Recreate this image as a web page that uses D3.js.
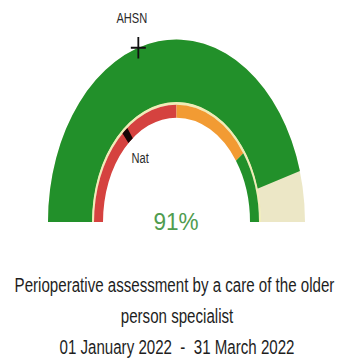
<!DOCTYPE html>
<html>
<head>
<meta charset="utf-8">
<script src="https://cdn.jsdelivr.net/npm/d3@7"></script>
<style>
  html, body { margin: 0; padding: 0; background: #fff; }
  svg { display: block; }
  text { font-family: "Liberation Sans", Arial, sans-serif; white-space: pre; }
</style>
</head>
<body>
<svg id="chart" width="337" height="361"></svg>
<script>
// Headline score (percent) shown by the outer ring
const scoreValue = 91;
// Performance bands of the inner ring: limits and their colours
const bandLimits = [0, 50, 80, 100];
const bandColors = ["#d5423f", "#f29b33", "#22902a"];
// Comparator markers
const markerNames = ["AHSN", "Nat"];
const markerValues = [40.4, 28.5];
// Caption under the gauge
const titleLines = [
  "Perioperative assessment by a care of the older",
  "person specialist",
  "01 January 2022  -  31 March 2022"
];

const svg = d3.select("#chart");
const cx = 176.5, baseY = 222, stretch = 1.42;

const angle = d3.scaleLinear().domain([0, 100]).range([-Math.PI / 2, Math.PI / 2]);

const ring = { outerR: 128.5, outerIn: 84.2, rimIn: 82.5, innerIn: 73.5 };

// screen position of a value at a given radius (gauge is stretched vertically)
function toScreen(v, r) {
  const a = angle(v);
  return [cx + r * Math.sin(a), baseY - r * Math.cos(a) * stretch];
}

const g = svg.append("g")
  .attr("transform", `translate(${cx},${baseY}) scale(1,${stretch})`);

const arc = d3.arc();

// outer track and score arc
g.append("path")
  .attr("d", arc({ innerRadius: ring.outerIn, outerRadius: ring.outerR,
                   startAngle: angle(0), endAngle: angle(100) }))
  .attr("fill", "#ece7c6");
g.append("path")
  .attr("d", arc({ innerRadius: ring.outerIn, outerRadius: ring.outerR,
                   startAngle: angle(0), endAngle: angle(scoreValue) }))
  .attr("fill", "#22902a");

// pale rim between the rings
g.append("path")
  .attr("d", arc({ innerRadius: ring.rimIn, outerRadius: ring.outerIn + 0.3,
                   startAngle: angle(0), endAngle: angle(100) }))
  .attr("fill", "#f0ecb6");

// inner band ring
g.selectAll("path.band")
  .data(d3.pairs(bandLimits))
  .join("path")
  .attr("class", "band")
  .attr("d", d => arc({ innerRadius: ring.innerIn, outerRadius: ring.rimIn,
                        startAngle: angle(d[0]), endAngle: angle(d[1]) }))
  .attr("fill", (d, i) => bandColors[i]);

// AHSN: cross on the outer edge
const ahsnA = angle(markerValues[0]);
g.append("path")
  .attr("transform", `translate(${ring.outerR * Math.sin(ahsnA)},${-ring.outerR * Math.cos(ahsnA)})`)
  .attr("d", "M-7.5,0H7.5M0,-7.5V7.5")
  .attr("stroke", "#111")
  .attr("stroke-width", 1.8)
  .attr("vector-effect", "non-scaling-stroke")
  .attr("fill", "none");

// Nat: short bar across the inner ring
g.append("path")
  .attr("d", arc({ innerRadius: ring.innerIn, outerRadius: ring.rimIn,
                   startAngle: angle(markerValues[1] - 1.2), endAngle: angle(markerValues[1] + 1.2) }))
  .attr("fill", "#160606");

// marker labels
const labelR = [150.5, 58];
markerNames.forEach((name, i) => {
  const [x, y] = toScreen(markerValues[i], labelR[i]);
  svg.append("text")
    .attr("transform", `translate(${x},${y}) scale(0.74,1)`)
    .attr("text-anchor", "middle")
    .attr("dy", "0.36em")
    .attr("font-size", 15)
    .attr("fill", "#2a2a2a")
    .text(name);
});

// headline value
svg.append("text")
  .attr("transform", `translate(176,230) scale(0.94,1)`)
  .attr("text-anchor", "middle")
  .attr("font-size", 24)
  .attr("fill", "#4f9c4f")
  .text(d3.format(".0f")(scoreValue) + "%");

// caption
const lineY = d3.scaleLinear().domain([0, 1]).range([292, 323]);
svg.selectAll("text.title")
  .data(titleLines)
  .join("text")
  .attr("class", "title")
  .attr("transform", (d, i) => `translate(${i === 0 ? 174.5 : 177},${lineY(i)}) scale(0.755,1)`)
  .attr("text-anchor", "middle")
  .attr("font-size", 20)
  .attr("fill", "#1e1e1e")
  .text(d => d);
</script>
</body>
</html>
